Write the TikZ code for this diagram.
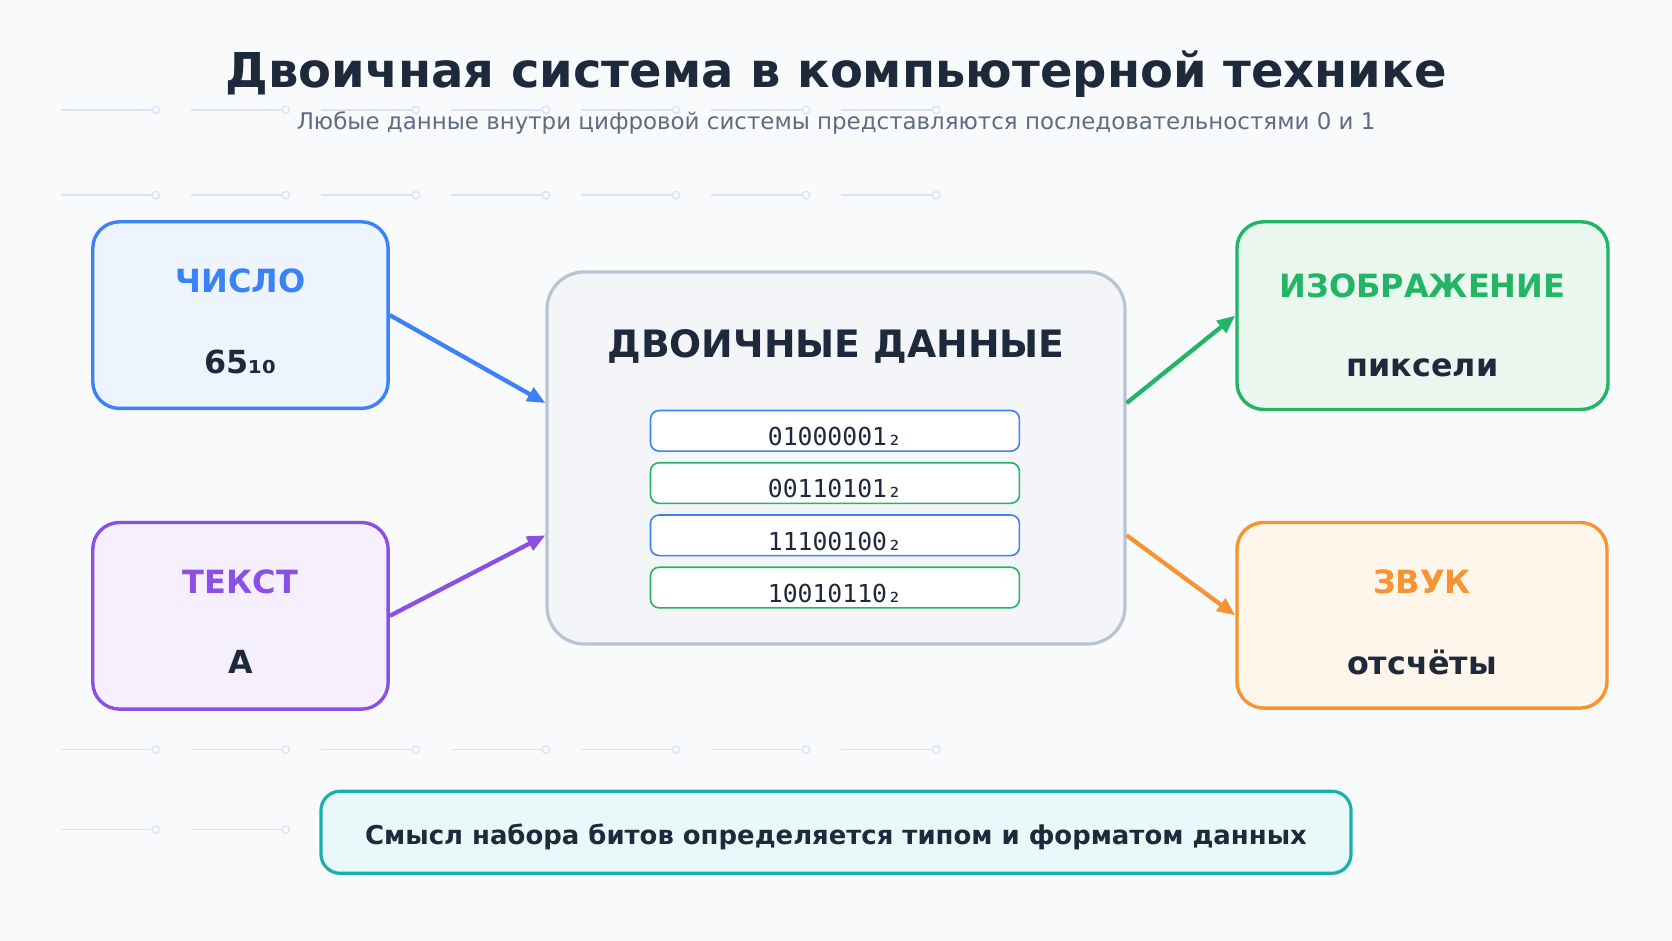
\documentclass[tikz,border=0pt]{standalone}
\usepackage{fontspec}
\setmainfont{DejaVu Sans}
\newfontfamily\monofont{DejaVu Sans Mono}
\usetikzlibrary{arrows.meta,calc}
\definecolor{bgc}{HTML}{F8FAFC}
\definecolor{ink}{HTML}{1E293B}
\definecolor{subc}{HTML}{5E6C82}
\definecolor{decc}{HTML}{DCE3F0}
\definecolor{cblue}{HTML}{3B82F6}
\definecolor{fblue}{HTML}{EEF4FE}
\definecolor{cpurp}{HTML}{8B4FE6}
\definecolor{fpurp}{HTML}{F6F0FE}
\definecolor{cgreen}{HTML}{22B566}
\definecolor{fgreen}{HTML}{EAF7EF}
\definecolor{corange}{HTML}{F79331}
\definecolor{forange}{HTML}{FEF5EB}
\definecolor{cgray}{HTML}{B8C4D4}
\definecolor{fgray}{HTML}{F3F5F8}
\definecolor{cteal}{HTML}{19AFAB}
\definecolor{fteal}{HTML}{E9F8F8}
\begin{document}
\begin{tikzpicture}[x=1pt,y=-1pt,
  decor/.style={draw=decc,line width=1.5pt},
  card/.style={rectangle,rounded corners=25pt,line width=3.2pt,inner sep=0pt,minimum width=277pt,minimum height=175pt},
  cardtitle/.style={font=\fontsize{30}{34}\selectfont\bfseries,inner sep=0pt},
  cardvalue/.style={font=\fontsize{29.8}{34}\selectfont\bfseries,text=ink,inner sep=0pt},
  bitrow/.style={rectangle,rounded corners=8pt,line width=1.5pt,fill=white,minimum width=346pt,minimum height=38pt,inner sep=0pt},
  bittext/.style={font=\monofont\fontsize{23.2}{26}\selectfont,text=ink,inner sep=0pt},
  link/.style={line width=4pt,-{Triangle[length=17pt,width=14pt]}}
]
\useasboundingbox (0,0) rectangle (1568,882);
\fill[bgc] (0,0) rectangle (1568,882);

% decorative lines
\foreach \yy in {103,183,703,778}{
  \foreach \i in {0,...,6}{
    \draw[decor] ({57+122*\i},\yy) -- ({142.5+122*\i},\yy);
    \draw[decor,line width=1.2pt] ({146+122*\i},\yy) circle (3.5);
  }
}

% title
\node[font=\fontsize{45}{50}\selectfont\bfseries,text=ink,inner sep=0pt] (title) at (784,69.5) {Двоичная система в компьютерной технике};
\node[font=\fontsize{21.5}{24}\selectfont,text=subc,inner sep=0pt] (subtitle) at (784,115.5) {Любые данные внутри цифровой системы представляются последовательностями 0 и 1};

% left cards
\node[card,draw=cblue,fill=fblue] (num) at (225.5,295.5) {};
\node[cardtitle,text=cblue] (numt) at (225.5,263) {ЧИСЛО};
\node[cardvalue] (numv) at (225.5,339.5) {65₁₀};

\node[card,draw=cpurp,fill=fpurp] (txt) at (225.5,577.5) {};
\node[cardtitle,text=cpurp] (txtt) at (225.5,546) {ТЕКСТ};
\node[cardvalue] (txtv) at (225.5,621) {А};

% right cards
\node[card,draw=cgreen,fill=fgreen,minimum width=348pt,minimum height=176pt] (img) at (1334,296) {};
\node[cardtitle,text=cgreen] (imgt) at (1334,268) {ИЗОБРАЖЕНИЕ};
\node[cardvalue] (imgv) at (1334,345) {пиксели};

\node[card,draw=corange,fill=forange,minimum width=347pt,minimum height=174pt] (snd) at (1333.5,577) {};
\node[cardtitle,text=corange] (sndt) at (1333.5,546) {ЗВУК};
\node[cardvalue] (sndv) at (1333.5,621) {отсчёты};

% centre
\node[rectangle,rounded corners=35pt,line width=3pt,draw=cgray,fill=fgray,minimum width=542pt,minimum height=349pt,inner sep=0pt] (data) at (784,429.5) {};
\node[font=\fontsize{35.4}{40}\selectfont\bfseries,text=ink,inner sep=0pt] (datat) at (784,325) {ДВОИЧНЫЕ ДАННЫЕ};

\node[bitrow,draw=cblue] (b1) at (783,404) {};
\node[bittext] (b1t) at (783,409.5) {01000001₂};
\node[bitrow,draw=cgreen] (b2) at (783,453) {};
\node[bittext] (b2t) at (783,458.5) {00110101₂};
\node[bitrow,draw=cblue] (b3) at (783,502) {};
\node[bittext] (b3t) at (783,507.5) {11100100₂};
\node[bitrow,draw=cgreen] (b4) at (783,551) {};
\node[bittext] (b4t) at (783,556.5) {10010110₂};

% arrows
\draw[link,cblue] (num.east) -- ($(data.west)+(0,-51.5)$);
\draw[link,cpurp] (txt.east) -- ($(data.west)+(0,72.5)$);
\draw[link,cgreen] ($(data.east)+(0,-51.5)$) -- (img.west);
\draw[link,corange] ($(data.east)+(0,72.5)$) -- (snd.west);

% bottom note
\node[rectangle,rounded corners=18pt,line width=3pt,draw=cteal,fill=fteal,minimum width=966pt,minimum height=77pt,inner sep=0pt] (note) at (784,780.5) {};
\node[font=\fontsize{24.3}{28}\selectfont\bfseries,text=ink,inner sep=0pt] (notet) at (784,784.5) {Смысл набора битов определяется типом и форматом данных};
\end{tikzpicture}
\end{document}
